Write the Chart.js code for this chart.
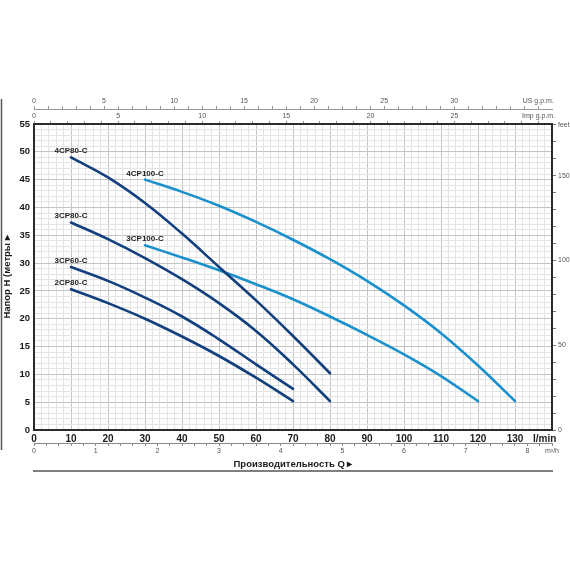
<!DOCTYPE html>
<html>
<head>
<meta charset="utf-8">
<script src="https://cdn.jsdelivr.net/npm/chart.js@4.4.1/dist/chart.umd.min.js"></script>
<style>
  html, body { margin: 0; padding: 0; background: #fff; }
  canvas { display: block; }
</style>
</head>
<body>
<canvas id="pumpChart" width="570" height="570"></canvas>
<script>
// Förderstrom in l/min
const flow4CP80 = [10, 20, 30, 40, 50, 60, 70, 80];
const flow3CP80 = [10, 20, 30, 40, 50, 60, 70, 80];
const flow3CP60 = [10, 20, 30, 40, 50, 60, 70];
const flow2CP80 = [10, 20, 30, 40, 50, 60, 70];
const flow4CP100 = [30, 40, 50, 60, 70, 80, 90, 100, 110, 120, 130];
const flow3CP100 = [30, 40, 50, 60, 70, 80, 90, 100, 110, 120];

// Förderhöhe in m
const head4CP80 = [49, 45.4, 40.8, 35.3, 29.3, 23.3, 16.9, 10.2];
const head3CP80 = [37.3, 34.3, 30.9, 27.1, 22.8, 17.8, 11.8, 5.2];
const head3CP60 = [29.3, 26.8, 23.8, 20.4, 16.3, 11.8, 7.4];
const head2CP80 = [25.3, 22.8, 20, 16.8, 13.3, 9.4, 5.2];
const head4CP100 = [45, 42.8, 40.3, 37.4, 34.2, 30.7, 26.8, 22.4, 17.4, 11.6, 5.2];
const head3CP100 = [33.2, 31, 28.7, 26.2, 23.5, 20.4, 17.1, 13.6, 9.7, 5.2];

const curveNames = ["4CP80-C", "3CP80-C", "3CP60-C", "2CP80-C", "4CP100-C", "3CP100-C"];

const FLOW_MAX = 140;
const HEAD_MAX = 55;
const LPM_PER_USGPM = 3.78541;
const LPM_PER_IMPGPM = 4.54609;
const LPM_PER_M3H = 1000 / 60;
const FT_PER_M = 3.28084;

const NARROW = '"Liberation Sans Narrow", "Liberation Sans", Arial, sans-serif';
const SANS = '"Liberation Sans", Arial, sans-serif';
const DARK_BLUE = "#123f7d";
const LIGHT_BLUE = "#1a90cc";

/**
 * Baut die Punkte einer Kennlinie aus Förderstrom und Förderhöhe
 */
function toPoints(flows, heads) {
    return flows.map((x, i) => ({ x: x, y: heads[i] }));
}

function isWhole(v) {
    return Math.abs(v - Math.round(v)) < 1e-6;
}

/**
 * Beschriftet jede Kennlinie über ihrem ersten Punkt, zeichnet Rahmenlinien
 */
const curveLabels = {
    id: "curveLabels",
    afterDatasetsDraw(chart) {
        const ctx = chart.ctx;
        ctx.save();
        ctx.font = "bold 8px " + NARROW;
        ctx.fillStyle = "#222";
        ctx.textAlign = "center";
        ctx.textBaseline = "alphabetic";
        chart.data.datasets.forEach((ds, i) => {
            const first = chart.getDatasetMeta(i).data[0];
            ctx.fillText(ds.label, first.x, first.y - 4);
        });
        ctx.restore();
    },
    afterDraw(chart) {
        const ctx = chart.ctx;
        const area = chart.chartArea;
        ctx.save();
        ctx.strokeStyle = "#555";
        ctx.lineWidth = 1.5;
        ctx.beginPath();
        ctx.moveTo(1.5, 99);
        ctx.lineTo(1.5, 450);
        ctx.moveTo(area.left - 1, 471);
        ctx.lineTo(area.right + 1, 471);
        ctx.stroke();
        ctx.restore();
    }
};

function makeDataset(i, flows, heads, color) {
    return {
        label: curveNames[i],
        data: toPoints(flows, heads),
        borderColor: color,
        borderWidth: 2.6,
        borderCapStyle: "round",
        pointRadius: 0,
        tension: 0.4,
        fill: false
    };
}

const majorGrid = step => ctx => (ctx.tick && isWhole(ctx.tick.value / step)) ? "#c4c4c4" : "#e4e4e4";

const config = {
    type: "line",
    data: {
        datasets: [
            makeDataset(0, flow4CP80, head4CP80, DARK_BLUE),
            makeDataset(1, flow3CP80, head3CP80, DARK_BLUE),
            makeDataset(2, flow3CP60, head3CP60, DARK_BLUE),
            makeDataset(3, flow2CP80, head2CP80, DARK_BLUE),
            makeDataset(4, flow4CP100, head4CP100, LIGHT_BLUE),
            makeDataset(5, flow3CP100, head3CP100, LIGHT_BLUE)
        ]
    },
    options: {
        responsive: false,
        animation: false,
        devicePixelRatio: 1,
        layout: { padding: { top: 94, bottom: 97, left: 0, right: 0 } },
        plugins: {
            legend: { display: false },
            tooltip: { enabled: false }
        },
        scales: {
            x: {
                type: "linear",
                position: "bottom",
                weight: 0,
                min: 0,
                max: FLOW_MAX,
                afterFit: s => { s.height = 13; },
                border: { color: "#2a2a2a", width: 2 },
                grid: { drawTicks: false, color: majorGrid(10), lineWidth: 1 },
                ticks: {
                    stepSize: 2,
                    autoSkip: false,
                    maxRotation: 0,
                    padding: 3,
                    color: "#1a1a1a",
                    font: { family: NARROW, size: 10, weight: "bold" },
                    callback: v => v === 138 ? "l/min" : (v % 10 === 0 && v <= 130 ? v : "")
                }
            },
            xm3: {
                type: "linear",
                position: "bottom",
                weight: 1,
                min: 0,
                max: FLOW_MAX / LPM_PER_M3H,
                afterFit: s => { s.height = 30; },
                border: { color: "#8a8a8a", width: 1 },
                grid: { drawOnChartArea: false, tickLength: 3, color: "#8a8a8a" },
                ticks: {
                    stepSize: 0.2,
                    autoSkip: false,
                    maxRotation: 0,
                    padding: 1,
                    color: "#555",
                    font: { family: NARROW, size: 7 },
                    callback: v => v > 8.3 ? "m³/h" : (isWhole(v) ? Math.round(v) : "")
                },
                title: {
                    display: true,
                    text: "Производительность Q ▸",
                    color: "#1a1a1a",
                    font: { family: SANS, size: 9.5, weight: "bold" },
                    padding: { top: 0, bottom: 3 }
                }
            },
            ximp: {
                type: "linear",
                position: "top",
                weight: 0,
                min: 0,
                max: FLOW_MAX / LPM_PER_IMPGPM,
                afterFit: s => { s.height = 15; },
                border: { color: "#2a2a2a", width: 2 },
                grid: { drawOnChartArea: false, tickLength: 3, color: "#999" },
                ticks: {
                    stepSize: 1,
                    includeBounds: false,
                    autoSkip: false,
                    maxRotation: 0,
                    padding: 1,
                    color: "#555",
                    font: { family: NARROW, size: 7 },
                    callback: v => v === 30 ? "Imp g.p.m." : (v % 5 === 0 ? v : "")
                }
            },
            xus: {
                type: "linear",
                position: "top",
                weight: 1,
                min: 0,
                max: FLOW_MAX / LPM_PER_USGPM,
                afterFit: s => { s.height = 15; },
                border: { color: "#999", width: 1 },
                grid: { drawOnChartArea: false, tickLength: 3, color: "#999" },
                ticks: {
                    stepSize: 1,
                    includeBounds: false,
                    autoSkip: false,
                    maxRotation: 0,
                    padding: 1,
                    color: "#555",
                    font: { family: NARROW, size: 7 },
                    callback: v => v === 36 ? "US g.p.m." : (v % 5 === 0 && v < 35 ? v : "")
                }
            },
            y: {
                type: "linear",
                position: "left",
                min: 0,
                max: HEAD_MAX,
                afterFit: s => { s.width = 34; },
                border: { color: "#2a2a2a", width: 2 },
                grid: { drawTicks: false, color: majorGrid(5), lineWidth: 1 },
                ticks: {
                    stepSize: 1,
                    autoSkip: false,
                    padding: 4,
                    color: "#1a1a1a",
                    font: { family: NARROW, size: 9.5, weight: "bold" },
                    callback: v => v % 5 === 0 ? v : ""
                },
                title: {
                    display: true,
                    text: "Напор H (метры ▸",
                    color: "#1a1a1a",
                    font: { family: SANS, size: 9.5, weight: "bold" },
                    padding: { top: 2, bottom: 0 }
                }
            },
            yft: {
                type: "linear",
                position: "right",
                min: 0,
                max: HEAD_MAX * FT_PER_M,
                afterFit: s => { s.width = 18; },
                border: { color: "#2a2a2a", width: 2 },
                grid: { drawOnChartArea: false, tickLength: 4, color: "#777" },
                ticks: {
                    stepSize: 10,
                    includeBounds: false,
                    autoSkip: false,
                    padding: 2,
                    color: "#555",
                    font: { family: NARROW, size: 7 },
                    callback: v => v === 180 ? "feet" : (v % 50 === 0 ? v : "")
                }
            }
        }
    },
    plugins: [curveLabels]
};

new Chart(document.getElementById("pumpChart"), config);
</script>
</body>
</html>
